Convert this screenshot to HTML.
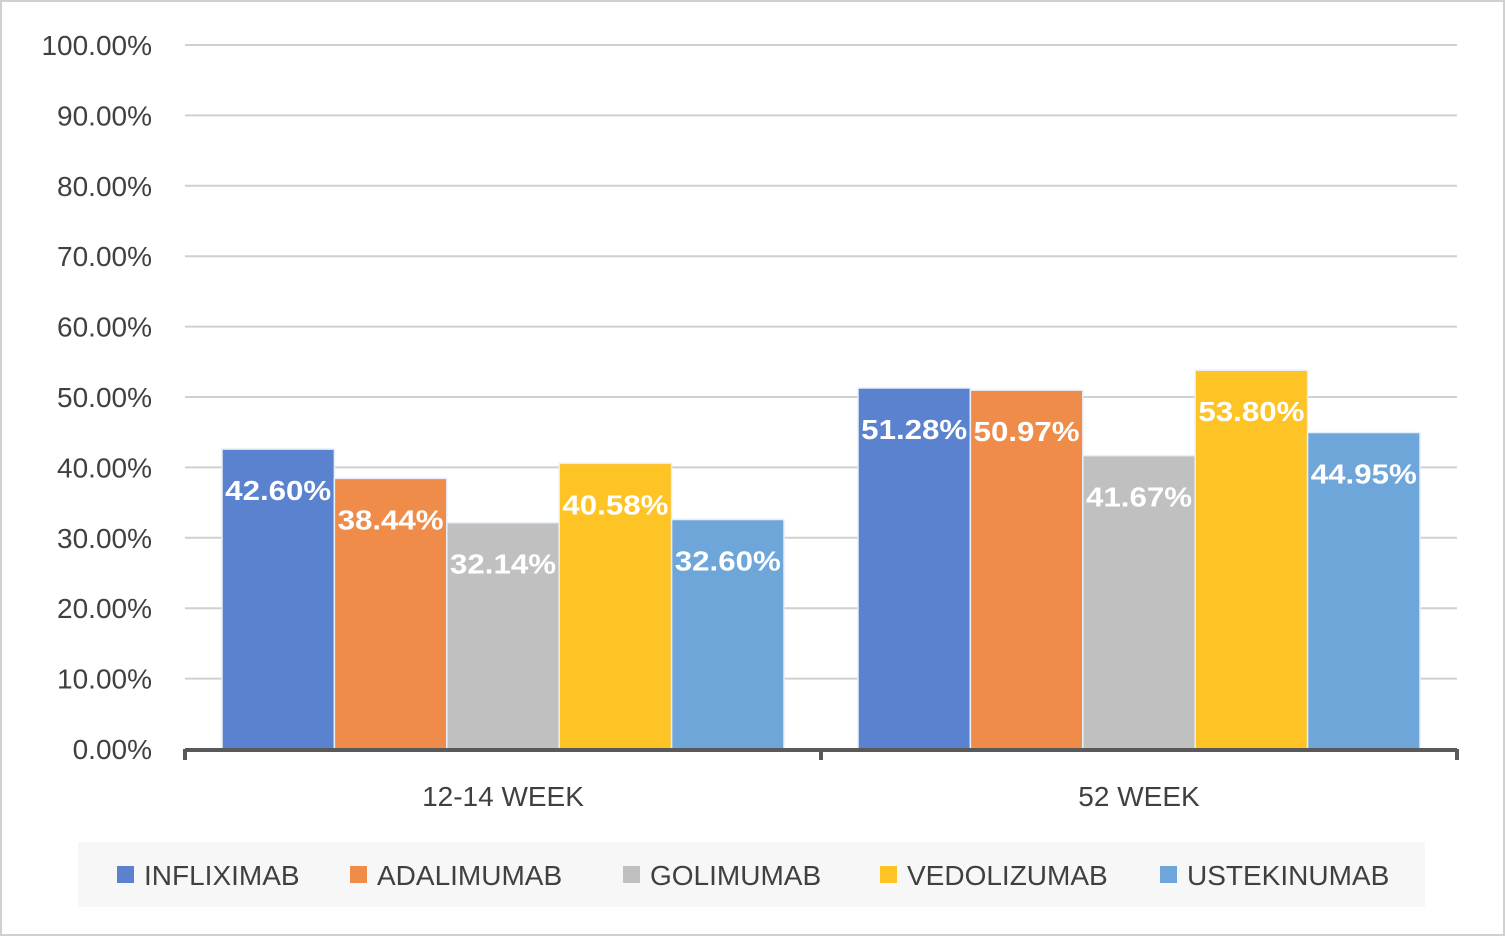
<!DOCTYPE html>
<html><head><meta charset="utf-8"><style>
body{margin:0;background:#fff}
#wrap{position:relative;width:1505px;height:936px;box-sizing:border-box;border:2px solid #d0d0d0;background:#fff;font-family:"Liberation Sans",sans-serif}
svg{position:absolute;left:-2px;top:-2px}
</style></head><body>
<div id="wrap">
<svg id="chart" width="1505" height="936"></svg>
</div>
<script>
const categories=["12-14 WEEK","52 WEEK"];
const seriesNames=["INFLIXIMAB","ADALIMUMAB","GOLIMUMAB","VEDOLIZUMAB","USTEKINUMAB"];
const infliximab=[42.60,51.28];
const adalimumab=[38.44,50.97];
const golimumab=[32.14,41.67];
const vedolizumab=[40.58,53.80];
const ustekinumab=[32.60,44.95];
const yTicks=[0,10,20,30,40,50,60,70,80,90,100];
const series=[infliximab,adalimumab,golimumab,vedolizumab,ustekinumab];
const colors=["#5b82cf","#ef8c4a","#c0c0c0","#fec426","#6fa6da"];
const NS="http://www.w3.org/2000/svg";
const svg=document.getElementById('chart');
function el(t,a,txt){const e=document.createElementNS(NS,t);for(const k in a)e.setAttribute(k,a[k]);if(txt!==undefined)e.textContent=txt;svg.appendChild(e);return e;}
const x0=185,x1=1457,yB=749,yT=45;
const y=v=>yB-(v/100)*(yB-yT);
const groupW=(x1-x0)/categories.length,barW=112.4,pad=(groupW-barW*5)/2;
const xBar=(c,s)=>x0+c*groupW+pad+s*barW;
yTicks.forEach(t=>{
  if(t>0){const g=el('line',{x1:x0,x2:x1,y1:y(t),y2:y(t),stroke:'#d0d0d0','stroke-width':2});
  
  }
  const l=el('text',{x:152,y:y(t)+10,'text-anchor':'end','font-size':28,fill:'#404040'},t.toFixed(2)+'%');
  
  
});
series.forEach((vals,s)=>vals.forEach((v,c)=>{
  const r=el('rect',{x:xBar(c,s),y:y(v),width:barW,height:yB-y(v),fill:colors[s],stroke:'#e8eef8','stroke-width':1.5});
  
  
  const t=el('text',{x:xBar(c,s)+barW/2,y:y(v)+51,'text-anchor':'middle','font-size':28,'font-weight':'bold',fill:'#fff',textLength:106,lengthAdjust:'spacingAndGlyphs'},v.toFixed(2)+'%');
  
  
}));
const ax=el('line',{x1:x0,x2:x1,y1:yB+1,y2:yB+1,stroke:'#595959','stroke-width':4});


for(let i=0;i<=categories.length;i++){
  const tk=el('line',{x1:x0+i*groupW,x2:x0+i*groupW,y1:yB,y2:yB+11,stroke:'#595959','stroke-width':4});
  
  
}
categories.forEach((c,i)=>{
  const t=el('text',{x:x0+(i+0.5)*groupW,y:806,'text-anchor':'middle','font-size':28,fill:'#404040'},c);
  
  
});
const lb=el('rect',{x:78,y:842,width:1347,height:65,fill:'#f7f7f7'});


const legX=[117,350,623,880,1160];
seriesNames.forEach((n,i)=>{
  const sw=el('rect',{x:legX[i],y:866,width:17,height:17,fill:colors[i]});
  
  
  const t=el('text',{x:legX[i]+27,y:885,'font-size':28,fill:'#404040'},n);
  
  
});
</script>
</body></html>
